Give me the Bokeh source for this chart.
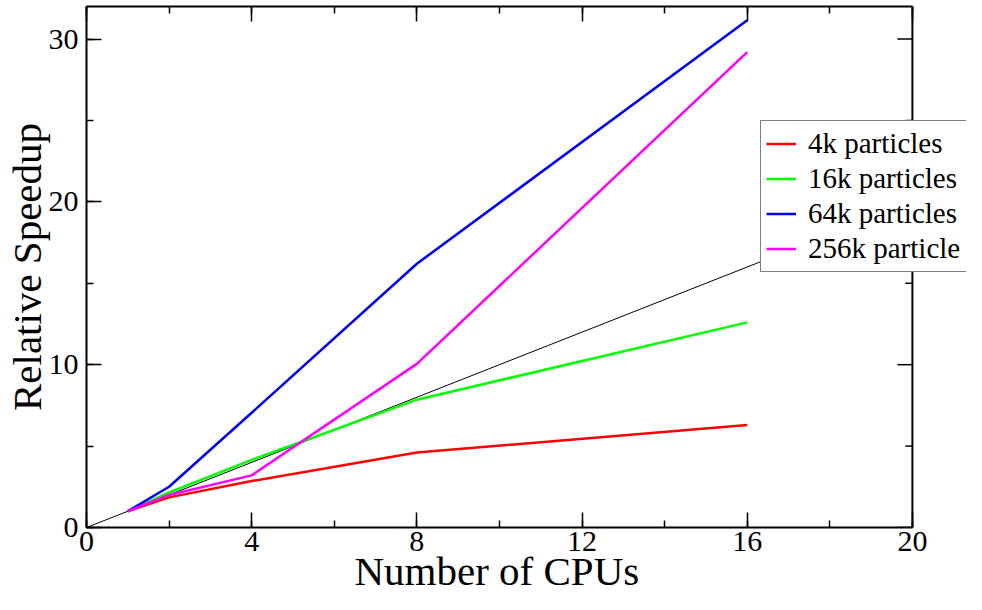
import numpy as np
from bokeh.plotting import figure
from bokeh.models import (Range1d, LinearAxis, SingleIntervalTicker, Legend,
                          LegendItem, CustomJSTickFormatter, Span, Title)
from bokeh.embed import file_html
from bokeh.resources import INLINE

# ---- data ----
cpus = [1, 2, 4, 8, 16]
speed_4k = [1.0, 1.85, 2.85, 4.6, 6.3]
speed_16k = [1.0, 2.15, 4.15, 7.85, 12.6]
speed_64k = [1.0, 2.5, 7.05, 16.2, 31.15]
speed_256k = [1.0, 2.0, 3.2, 10.05, 29.2]
ideal_x = [0, 20]
ideal_y = [0, 20]
labels = ["4k particles", "16k particles", "64k particles", "256k particle"]
colors = ["#ff0000", "#00ff00", "#0000ff", "#ff00ff"]
y_major_ticks = [0, 10, 20, 30]
y_minor_ticks = [5, 15, 25]

FONT = "Liberation Serif"
X_MAX = 20
# frame extends past x=20 so that the legend can overhang the right border
X_VIEW_MAX = 21.31

p = figure(width=966, height=594, output_backend="svg", toolbar_location=None,
           x_range=Range1d(0, X_VIEW_MAX), y_range=Range1d(0, 32),
           min_border_left=81, min_border_right=0, min_border_top=6,
           min_border_bottom=67, y_axis_label="Relative Speedup")
p.grid.visible = False
p.outline_line_color = None
p.background_fill_color = "white"
p.border_fill_color = "white"

p.xaxis.ticker = SingleIntervalTicker(interval=4, num_minor_ticks=2)
p.yaxis.ticker = SingleIntervalTicker(interval=10, num_minor_ticks=2)
p.xaxis.bounds = (0, X_MAX)

def style(ax):
    ax.axis_line_color = "black"
    ax.axis_line_width = 2
    ax.major_tick_in = 15
    ax.major_tick_out = 0
    ax.minor_tick_in = 7
    ax.minor_tick_out = 0
    ax.major_tick_line_color = "black"
    ax.minor_tick_line_color = "black"
    ax.major_tick_line_width = 1.5
    ax.minor_tick_line_width = 1.5
    ax.major_label_text_font = FONT
    ax.major_label_text_font_size = "30px"
    ax.major_label_text_color = "black"
    ax.axis_label_text_font = FONT
    ax.axis_label_text_font_size = "41px"
    ax.axis_label_text_font_style = "normal"
    ax.axis_label_text_color = "black"

for ax in p.xaxis + p.yaxis:
    style(ax)
p.xaxis.major_label_standoff = 4
p.yaxis.major_label_standoff = 8
p.yaxis.axis_label_standoff = -4

# x-axis title, left-aligned on the frame and shifted to sit centred under 0..20
xtitle = Title(text="Number of CPUs", align="left", offset=268,
               text_font=FONT, text_font_size="41px", text_font_style="normal",
               text_color="black", standoff=-16)
p.add_layout(xtitle, "below")

blank = CustomJSTickFormatter(code="return ''")
top = LinearAxis(ticker=SingleIntervalTicker(interval=4, num_minor_ticks=2),
                 formatter=blank, bounds=(0, X_MAX))
style(top)
top.major_label_text_font_size = "1px"
top.major_label_standoff = 0
p.add_layout(top, "above")

# right border of the box at x = 20 with inward ticks
p.ray(x=[X_MAX] * len(y_major_ticks), y=y_major_ticks, length=15,
      length_units="screen", angle=np.pi, line_color="black", line_width=1.5)
p.ray(x=[X_MAX] * len(y_minor_ticks), y=y_minor_ticks, length=7,
      length_units="screen", angle=np.pi, line_color="black", line_width=1.5)

p.line(ideal_x, ideal_y, line_color="black", line_width=1)

series = [speed_4k, speed_16k, speed_64k, speed_256k]
items = []
for lab, col, ys in zip(labels, colors, series):
    r = p.line(cpus, ys, line_color=col, line_width=2.5)
    items.append(LegendItem(label=lab, renderers=[r]))

p.add_layout(Span(location=X_MAX, dimension="height", line_color="black",
                  line_width=2))

legend = Legend(items=items, location=(674, 255))
legend.margin = 0
legend.padding = 5
legend.spacing = 0
legend.label_height = 35
legend.glyph_height = 35
legend.glyph_width = 30
legend.label_standoff = 12
legend.label_width = 162
legend.label_text_font = FONT
legend.label_text_font_size = "29px"
legend.label_text_color = "black"
legend.border_line_color = "black"
legend.border_line_width = 1.5
legend.background_fill_color = "white"
legend.background_fill_alpha = 1.0
p.add_layout(legend)

open("out.html", "w").write(file_html(p, INLINE))
